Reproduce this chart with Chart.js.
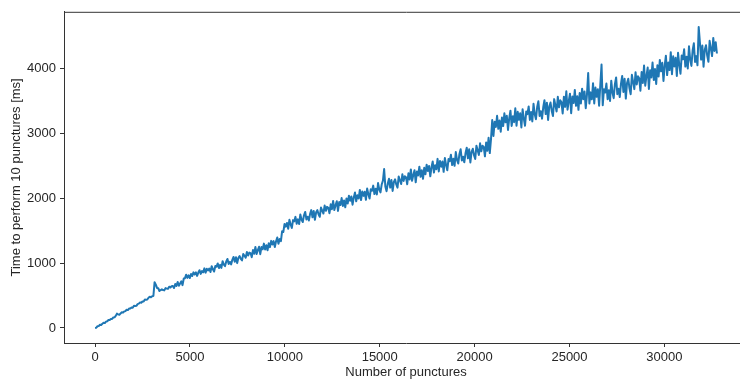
<!DOCTYPE html>
<html>
<head>
<meta charset="utf-8">
<script src="https://cdn.jsdelivr.net/npm/chart.js@4.4.1/dist/chart.umd.min.js"></script>
<style>
  html, body { margin: 0; padding: 0; background: #fff; overflow: hidden; }
  #wrap { width: 760px; height: 380px; }
</style>
</head>
<body>
<div id="wrap"><canvas id="chart" width="760" height="380"></canvas></div>
<script>
// one reading every 64 punctures
const step = 64
const puncture_counts = []
// time to perform 10 punctures (ms), 16 readings per row
const times_ms = [
    0, 4, 26, 29, 50, 47, 64, 79, 75, 97, 102, 122, 121, 138, 139, 161,
    163, 186, 221, 210, 203, 224, 241, 236, 255, 259, 282, 275, 298, 300, 316, 312,
    341, 339, 341, 368, 375, 394, 388, 408, 407, 438, 436, 439, 465, 481, 474, 489,
    492, 705, 668, 617, 612, 570, 584, 595, 584, 579, 614, 607, 602, 636, 623, 642,
    648, 615, 678, 649, 708, 651, 686, 718, 660, 761, 767, 821, 772, 810, 769, 832,
    800, 857, 825, 856, 803, 854, 890, 833, 877, 857, 918, 853, 913, 885, 916, 863,
    952, 905, 870, 956, 945, 994, 923, 972, 926, 1029, 976, 953, 1026, 1064, 987, 1018,
    980, 1050, 1094, 1021, 1090, 999, 1080, 1107, 1064, 1041, 1141, 1112, 1082, 1171, 1116, 1161,
    1154, 1091, 1200, 1144, 1247, 1140, 1199, 1251, 1137, 1247, 1213, 1300, 1208, 1275, 1196, 1306,
    1246, 1342, 1286, 1338, 1246, 1334, 1395, 1297, 1372, 1338, 1492, 1480, 1603, 1561, 1619, 1528,
    1667, 1594, 1541, 1662, 1643, 1712, 1605, 1674, 1602, 1750, 1669, 1633, 1737, 1788, 1673, 1715,
    1657, 1754, 1816, 1706, 1803, 1667, 1782, 1816, 1752, 1714, 1856, 1810, 1763, 1887, 1805, 1866,
    1853, 1769, 1905, 1830, 1958, 1818, 1890, 1953, 1804, 1941, 1894, 2002, 1881, 1963, 1859, 1996,
    1917, 2039, 1960, 2026, 1900, 2012, 2087, 1952, 2045, 1995, 2127, 1972, 2104, 2036, 2100, 1975,
    2149, 2061, 1994, 2138, 2114, 2194, 2064, 2145, 2057, 2233, 2134, 2089, 2212, 2271, 2450, 2180,
    2108, 2225, 2299, 2163, 2280, 2112, 2251, 2291, 2211, 2163, 2335, 2277, 2218, 2368, 2266, 2339,
    2323, 2215, 2384, 2287, 2444, 2268, 2356, 2432, 2244, 2412, 2350, 2485, 2330, 2430, 2299, 2468,
    2368, 2516, 2418, 2496, 2338, 2476, 2565, 2395, 2509, 2446, 2606, 2413, 2574, 2486, 2565, 2407,
    2620, 2511, 2430, 2603, 2572, 2669, 2510, 2607, 2499, 2711, 2590, 2534, 2682, 2753, 2582, 2640,
    2553, 2692, 2779, 2614, 2753, 2550, 2715, 2762, 2664, 2605, 2810, 2739, 2667, 2846, 2722, 2808,
    2790, 2645, 2860, 2730, 2930, 2695, 2915, 3205, 2960, 3180, 3098, 3271, 3069, 3197, 3025, 3243,
    3111, 3308, 3169, 3270, 3051, 3232, 3349, 3114, 3263, 3172, 3385, 3118, 3331, 3208, 3309, 3090,
    3371, 3228, 3117, 3338, 3295, 3415, 3206, 3328, 3184, 3455, 3295, 3218, 3406, 3494, 3268, 3340,
    3226, 3402, 3511, 3296, 3472, 3207, 3417, 3474, 3345, 3266, 3527, 3432, 3336, 3563, 3400, 3508,
    3481, 3307, 3564, 3408, 3648, 3365, 3497, 3611, 3310, 3568, 3466, 3669, 3423, 3573, 3362, 3620,
    3461, 3688, 3526, 3643, 3388, 3597, 3930, 3459, 3631, 3524, 3770, 3460, 3706, 3563, 3679, 3425,
    3748, 4060, 3434, 3681, 3629, 3767, 3525, 3663, 3499, 3811, 3629, 3542, 3759, 3862, 3604, 3688,
    3558, 3761, 3885, 3638, 3840, 3535, 3776, 3842, 3692, 3602, 3902, 3792, 3681, 3942, 3754, 3878,
    3847, 3657, 3946, 3776, 4045, 3735, 3884, 4014, 3683, 3973, 3862, 4092, 3821, 3991, 3760, 4050,
    3876, 4131, 3955, 4087, 3808, 4043, 4196, 3897, 4090, 3975, 4251, 3911, 4187, 4031, 4163, 3885,
    4242, 4059, 3919, 4198, 4141, 4295, 4028, 4181, 3999, 4341, 4137, 4039, 4276, 4387, 4100, 4190,
    4048, 4640, 4401, 4136, 4354, 4027, 4287, 4358, 4199, 4102, 4425, 4308, 4190, 4471, 4270, 4404,
    4230
]
for (let i = 0; i < times_ms.length; i++) {
    puncture_counts.push(i * step)
}

const x_ticks = [0, 5000, 10000, 15000, 20000, 25000, 30000]
const y_ticks = [0, 1000, 2000, 3000, 4000]

const points = puncture_counts.map((c, i) => ({ x: c, y: times_ms[i] }))

const textColor = '#262626'
const spineColor = '#333333'
const font = { family: "'Liberation Sans', Arial, sans-serif", size: 13 }

// matplotlib draws a top spine too
const topSpine = {
    id: 'topSpine',
    afterDraw(chart) {
        const { ctx, chartArea } = chart
        ctx.save()
        ctx.strokeStyle = spineColor
        ctx.lineWidth = 1
        ctx.beginPath()
        ctx.moveTo(chartArea.left, chartArea.top + 0.5)
        ctx.lineTo(chartArea.right + 1, chartArea.top + 0.5)
        ctx.moveTo(chartArea.right + 0.5, chartArea.top)
        ctx.lineTo(chartArea.right + 0.5, chartArea.bottom)
        ctx.stroke()
        ctx.restore()
    }
}

const config = {
    type: 'line',
    data: {
        datasets: [{
            data: points,
            borderColor: '#1f77b4',
            borderWidth: 2,
            borderJoinStyle: 'round',
            pointRadius: 0,
            fill: false,
            tension: 0,
        }]
    },
    options: {
        responsive: false,
        animation: false,
        layout: { padding: { top: 9, right: 12, left: 0, bottom: 0 } },
        plugins: {
            legend: { display: false },
            tooltip: { enabled: false },
        },
        scales: {
            x: {
                type: 'linear',
                min: -1638,
                max: 34406,
                afterFit: s => { s.height = 37 },
                afterBuildTicks: s => { s.ticks = x_ticks.map(v => ({ value: v })) },
                grid: { drawOnChartArea: false, drawTicks: true, tickLength: 4, color: spineColor },
                border: { display: true, color: spineColor, width: 1 },
                ticks: { color: textColor, font: font, padding: 3, maxRotation: 0, callback: v => String(v) },
                title: { display: true, text: 'Number of punctures', color: textColor, font: font, padding: { top: 0, bottom: 0 } },
            },
            y: {
                type: 'linear',
                min: -232,
                max: 4873,
                afterFit: s => { s.width = 64 },
                afterBuildTicks: s => { s.ticks = y_ticks.map(v => ({ value: v })) },
                grid: { drawOnChartArea: false, drawTicks: true, tickLength: 4, color: spineColor },
                border: { display: true, color: spineColor, width: 1 },
                ticks: { color: textColor, font: font, padding: 4, callback: v => String(v) },
                title: { display: true, text: 'Time to perform 10 punctures [ms]', color: textColor, font: font, padding: { top: 9, bottom: 0 } },
            },
        },
    },
    plugins: [topSpine],
}

let myChart = new Chart(document.getElementById('chart'), config)
</script>
</body>
</html>
